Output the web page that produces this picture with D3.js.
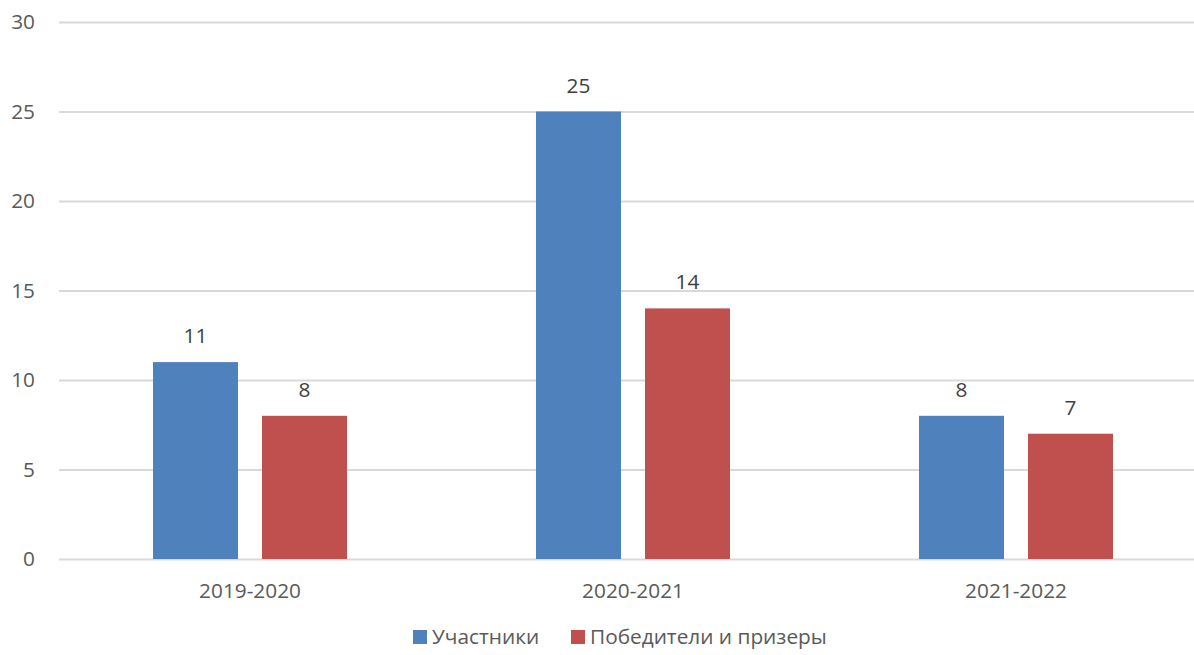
<!DOCTYPE html>
<html><head><meta charset="utf-8">
<script src="https://cdn.jsdelivr.net/npm/d3@7"></script>
<style>body{margin:0;background:#fff}svg{display:block;font-family:"Open Sans",sans-serif}</style>
</head><body>
<svg id="chart" width="1194" height="655"></svg>
<script>
const categories = ["2019-2020", "2020-2021", "2021-2022"];
const seriesNames = ["Участники", "Победители и призеры"];
const participants = [11, 25, 8];
const winners = [8, 14, 7];
const yTicks = [0, 5, 10, 15, 20, 25, 30];
const colors = ["#4F81BD", "#C0504D"];

const FS = 20.8;
const seriesValues = [participants, winners];
const svg = d3.select("#chart");
const x0 = d3.scaleBand().domain(categories).range([58.5, 1207.5]).paddingInner(0).paddingOuter(0);
const x1 = d3.scaleBand().domain(seriesNames).range([0, x0.bandwidth()]).paddingInner(24/109).paddingOuter(0.867);
const y = d3.scaleLinear().domain([0, 30]).range([559, 22]);

// gridlines
const yAxis = d3.axisLeft(y).tickValues(yTicks).tickSize(-(1207.5 - 59)).tickPadding(24);
const ga = svg.append("g").attr("transform", "translate(59,0)").call(yAxis);
ga.select(".domain").remove();
ga.selectAll(".tick line").attr("stroke", "#D9D9D9").attr("stroke-width", 2);
ga.selectAll(".tick text").attr("fill", "#595959").attr("font-size", FS).attr("font-family", "Open Sans, sans-serif");

// bars
categories.forEach((c, i) => {
  seriesNames.forEach((s, j) => {
    const v = seriesValues[j][i];
    svg.append("rect")
      .attr("x", x0(c) + x1(s)).attr("y", y(v))
      .attr("width", x1.bandwidth()).attr("height", y(0) - y(v))
      .attr("fill", colors[j]);
    svg.append("text")
      .attr("x", x0(c) + x1(s) + x1.bandwidth()/2).attr("y", y(v) - 19)
      .attr("text-anchor", "middle").attr("font-size", FS).attr("fill", "#404040")
      .text(v);
  });
});

// x axis labels
const xa = d3.axisBottom(x0).tickSize(0).tickPadding(24);
const gx = svg.append("g").attr("transform", "translate(0,559)").call(xa);
gx.select(".domain").remove();
gx.selectAll(".tick text").attr("fill", "#595959").attr("font-size", FS).attr("font-family", "Open Sans, sans-serif");

// legend
const legendX = [413, 571];
seriesNames.forEach((s, j) => {
  svg.append("rect").attr("x", legendX[j]).attr("y", 630).attr("width", 14).attr("height", 14).attr("fill", colors[j]);
  svg.append("text").attr("x", legendX[j] + 19).attr("y", 644).attr("font-size", FS).attr("fill", "#595959").text(s);
});
</script>
</body></html>
